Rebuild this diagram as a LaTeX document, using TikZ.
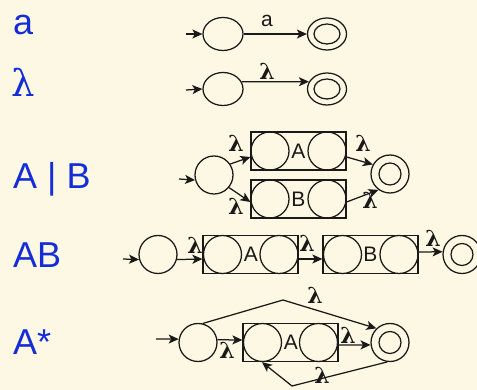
\documentclass[tikz,border=0pt]{standalone}
\usepackage{fontspec}
\setmainfont{Liberation Sans}
\newfontfamily\lamfont{DejaVu Serif}
\usetikzlibrary{arrows.meta,shapes.geometric}
\definecolor{bgc}{RGB}{253,248,227}
\definecolor{lblue}{RGB}{20,45,215}
\definecolor{ink}{RGB}{25,25,25}
\tikzset{
  st/.style={draw=ink, circle, minimum size=38pt, inner sep=0pt, line width=1.25pt},
  ell/.style={draw=ink, ellipse, minimum width=40pt, minimum height=33pt, inner sep=0pt, line width=1.25pt},
  inn/.style={draw=ink, circle, minimum size=22pt, inner sep=0pt, line width=1.25pt},
  innell/.style={draw=ink, ellipse, minimum width=26pt, minimum height=20pt, inner sep=0pt, line width=1.25pt},
  boxs/.style={draw=ink, rectangle, minimum width=95pt, minimum height=38pt, inner sep=0pt, line width=1.25pt},
  arr/.style={draw=ink, line width=1.25pt, -{Stealth[length=10pt,width=9pt,inset=2.5pt]}},
  lam/.style={anchor=base, inner sep=0pt, font=\lamfont\bfseries\fontsize{22}{22}\selectfont, text=ink},
  boxlab/.style={inner sep=0pt, font=\fontsize{21}{21}\selectfont, text=ink},
  side/.style={anchor=base west, inner sep=0pt, font=\fontsize{36}{36}\selectfont, text=lblue},
}
\begin{document}
\begin{tikzpicture}[x=1pt,y=-1pt]
\fill[bgc] (0,0) rectangle (477,390);
\useasboundingbox (0,0) rectangle (477,390);
\begin{scope}
\clip (0,0) rectangle (477,390);
% left labels
\node[side] (la) at (13,35) {a};
\node[side, font=\lamfont\fontsize{37}{37}\selectfont] (llam) at (11,97) {λ};
\node[side] (lab) at (13,189) {A | B};
\node[side] (lcat) at (13,268) {AB};
\node[side] (lstar) at (13,354) {A*};

% row 1
\node[ell] (s1) at (223,34) {};
\node[ell, minimum width=39pt, minimum height=32pt] (f1) at (327,34) {};
\node[innell] (f1i) at (327,34) {};
\coordinate (i1) at (186,34);
\draw[arr] (i1) -- (s1.west);
\draw[arr] (s1.east) -- (f1.west);
\node[anchor=base, inner sep=0pt, font=\fontsize{21}{21}\selectfont, text=ink] (e1) at (267,27) {a};

% row 2
\node[ell] (s2) at (223,89) {};
\node[ell, minimum width=39pt, minimum height=32pt] (f2) at (327,89) {};
\node[innell] (f2i) at (327,89) {};
\coordinate (i2) at (186,90);
\draw[arr] (i2) -- (s2.west);
\draw[arr] (s2.21) -- (f2.158);
\node[lam] (e2) at (267,80) {λ};

% row 3: A | B
\node[st] (s3) at (214,175) {};
\node[boxs] (A3) at (298.5,151) {};
\node[st] (A3l) at (270,151) {};
\node[st] (A3r) at (327,151) {};
\node[boxlab] (A3t) at (298.5,151) {A};
\node[boxs] (B3) at (298.5,199) {};
\node[st] (B3l) at (270,199) {};
\node[st] (B3r) at (327,199) {};
\node[boxlab] (B3t) at (298.5,199) {B};
\node[st] (f3) at (390,174) {};
\node[inn] (f3i) at (390,174) {};
\coordinate (i3) at (179,179);
\draw[arr] (i3) -- (s3.195);
\draw[arr] (s3.34) -- ([yshift=-6pt]A3.west);
\draw[arr] (s3.-40) -- ([yshift=-3pt]B3.west);
\draw[arr] ([yshift=-6pt]A3.east) -- (f3.151);
\draw[arr] ([yshift=-3pt]B3.east) -- (f3.234);
\node[lam] (e3a) at (236,152) {λ};
\node[lam] (e3b) at (236,215) {λ};
\node[lam] (e3c) at (363,152) {λ};
\node[lam] (e3d) at (370,209) {λ};

% row 4: AB
\node[st] (s4) at (158,254.5) {};
\node[boxs] (A4) at (250.5,254.5) {};
\node[st] (A4l) at (222.5,254.5) {};
\node[st] (A4r) at (279,254.5) {};
\node[boxlab] (A4t) at (251,254.5) {A};
\node[boxs] (B4) at (370.5,254.5) {};
\node[st] (B4l) at (342.5,254.5) {};
\node[st] (B4r) at (399,254.5) {};
\node[boxlab] (B4t) at (370.5,254.5) {B};
\node[st] (f4) at (462,254.5) {};
\node[inn] (f4i) at (462,254.5) {};
\coordinate (i4) at (123,259);
\draw[arr] (i4) -- (s4.195);
\draw[arr] (s4.-15) -- ([yshift=-4.5pt]A4.west);
\draw[arr] ([yshift=-4.5pt]A4.east) -- ([yshift=-4.5pt]B4.west);
\draw[arr] ([yshift=2.5pt]B4.east) -- (f4.172);
\node[lam] (e4a) at (195,254) {λ};
\node[lam] (e4b) at (307,252) {λ};
\node[lam] (e4c) at (433,247) {λ};

% row 5: A*
\node[st] (s5) at (198,342.5) {};
\node[boxs] (A5) at (290.5,342.5) {};
\node[st] (A5l) at (262.5,342.5) {};
\node[st] (A5r) at (318.5,342.5) {};
\node[boxlab] (A5t) at (291,342.5) {A};
\node[st] (f5) at (390,342.5) {};
\node[inn] (f5i) at (390,342.5) {};
\coordinate (i5) at (156,339);
\coordinate (top5) at (283,300);
\coordinate (bot5) at (292,386);
\draw[arr] (i5) -- (s5.170);
\draw[arr] (s5.8) -- ([yshift=2.5pt]A5.west);
\draw[arr] ([yshift=-2.5pt]A5.east) -- (f5.187);
\draw[arr] (s5.76) -- (top5) -- (f5.134);
\draw[arr] (f5.262) -- (bot5) -- ([xshift=-28.5pt]A5.south);
\node[lam] (e5a) at (227,359) {λ};
\node[lam] (e5b) at (348,344) {λ};
\node[lam] (e5c) at (315,304) {λ};
\node[lam] (e5d) at (322,384) {λ};
\end{scope}
\end{tikzpicture}
\end{document}
